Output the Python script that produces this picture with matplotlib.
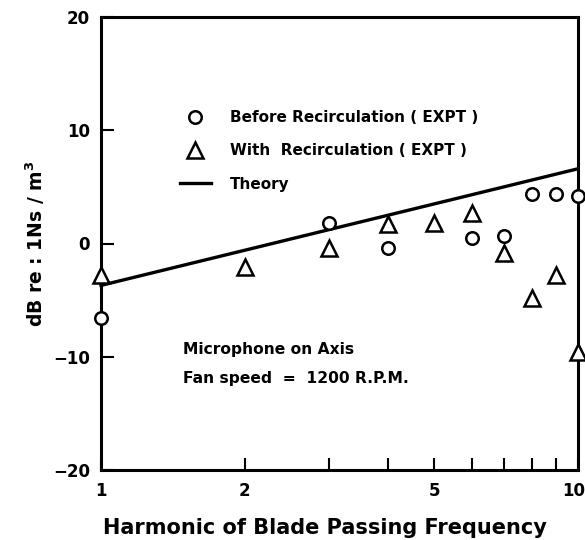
import matplotlib
matplotlib.use("Agg")
import matplotlib.pyplot as plt
import matplotlib.transforms as mtransforms
from matplotlib.lines import Line2D

plt.rcParams['font.family'] = ['DejaVu Sans']
plt.rcParams['font.weight'] = 'bold'
plt.rcParams['axes.labelweight'] = 'bold'
plt.rcParams['mathtext.default'] = 'bf'

harm_before = [1, 3, 4, 6, 7, 8, 9, 10]
db_before = [-6.6, 1.8, -0.4, 0.5, 0.7, 4.4, 4.4, 4.2]
harm_with = [1, 2, 3, 4, 5, 6, 7, 8, 9, 10]
db_with = [-2.8, -2.1, -0.4, 1.7, 1.8, 2.7, -0.8, -4.8, -2.8, -9.6]
theory_x = [1, 10]
theory_y = [-3.7, 6.6]
xtick_vals = [1, 2, 5, 10]
xtick_labels = ['1', '2', '5', '10']
ytick_vals = [-20, -10, 0, 10, 20]
ytick_labels = ['\u221220', '\u221210', '0', '10', '20']

fig = plt.figure(figsize=(5.85, 5.4), dpi=100)
ax = fig.add_axes([101/585, 1-470/540, (578-101)/585, (470-17)/540])

ax.plot(theory_x, theory_y, color='black', lw=2.4, zorder=3, clip_on=False)
ax.plot(harm_before, db_before, 'o', ms=9, mfc='white', mec='black', mew=1.8,
        clip_on=False, zorder=4)
ax.plot(harm_with, db_with, '^', ms=11.5, mfc='white', mec='black', mew=1.8,
        clip_on=False, zorder=4)

ax.set_xscale('log')
ax.set_xlim(1, 10)
ax.set_ylim(-20, 20)
ax.set_xticks(xtick_vals)
ax.set_xticklabels(xtick_labels)
ax.set_xticks([3, 4, 6, 7, 8, 9], minor=True)
ax.xaxis.set_minor_formatter(matplotlib.ticker.NullFormatter())
ax.set_yticks(ytick_vals)
ax.set_yticklabels(ytick_labels)
ax.tick_params(axis='both', which='both', direction='in', length=9, width=1.5,
               labelsize=12, pad=8)
ax.tick_params(axis='x', which='major', pad=9)
for s in ax.spines.values():
    s.set_linewidth(2.2)

last = ax.get_xticklabels()[-1]
last.set_transform(last.get_transform() +
                   mtransforms.ScaledTranslation(-4/100, 0, fig.dpi_scale_trans))

ax.set_xlabel('Harmonic of Blade Passing Frequency', fontsize=15, labelpad=8)
ax.xaxis.set_label_coords(0.47, -0.105)
ax.set_ylabel('dB re : 1Ns / m$^3$', fontsize=13.5, labelpad=4)

handles = [
    Line2D([], [], marker='o', ls='none', ms=9, mfc='white', mec='black', mew=1.8),
    Line2D([], [], marker='^', ls='none', ms=11.5, mfc='white', mec='black', mew=1.8),
    Line2D([], [], color='black', lw=2.4),
]
labels = ['Before Recirculation ( EXPT )', 'With  Recirculation ( EXPT )', 'Theory']
ax.legend(handles, labels, loc='upper left', bbox_to_anchor=(0.1656, 0.795),
          frameon=False, fontsize=11, handlelength=2.0, handletextpad=1.27,
          labelspacing=1.2, borderpad=0, borderaxespad=0)

ax.text(0.172, 0.267, 'Microphone on Axis', transform=ax.transAxes,
        fontsize=11.2, va='center')
ax.text(0.172, 0.203, 'Fan speed  =  1200 R.P.M.', transform=ax.transAxes,
        fontsize=11.2, va='center')

fig.savefig('out.png', dpi=100)
